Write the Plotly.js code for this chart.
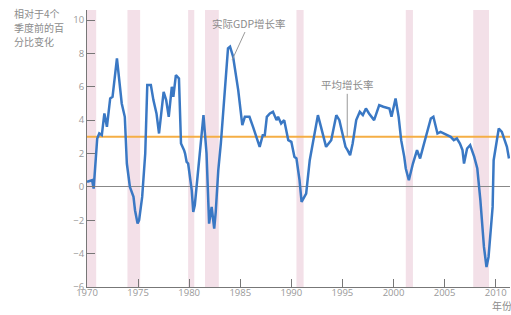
<!DOCTYPE html>
<html>
<head>
<meta charset="utf-8">
<script src="https://cdn.plot.ly/plotly-3.0.1.min.js"></script>
<style>html,body{margin:0;padding:0;background:#fff;}#chart{width:511px;height:315px;}</style>
</head>
<body>
<div id="chart"></div>
<script>
const years = [1970.0,1970.5,1970.65,1970.9,1971.0,1971.2,1971.45,1971.7,1971.95,1972.27,1972.5,1972.93,
1973.4,1973.7,1973.9,1974.2,1974.55,1974.7,1974.95,1975.1,1975.4,1975.7,1975.9,1976.25,1976.5,1976.8,
1977.05,1977.5,1977.75,1978.0,1978.3,1978.45,1978.7,1979.0,1979.2,1979.5,1979.6,1979.75,1979.9,
1980.25,1980.4,1980.55,1980.8,1981.05,1981.4,1981.7,1981.95,1982.2,1982.45,1982.6,1982.85,1983.1,
1983.3,1983.8,1984.0,1984.3,1984.8,1985.2,1985.45,1985.9,1986.25,1986.6,1986.9,1987.2,1987.4,1987.6,
1987.9,1988.2,1988.55,1988.7,1989.0,1989.3,1989.7,1990.0,1990.3,1990.5,1990.8,1991.0,1991.45,1991.8,
1992.1,1992.6,1992.9,1993.4,1993.9,1994.4,1994.7,1995.05,1995.3,1995.5,1995.75,1996.0,1996.35,1996.7,
1997.0,1997.3,1997.6,1998.1,1998.6,1999.0,1999.6,1999.8,2000.2,2000.5,2000.75,2001.05,2001.2,2001.5,
2001.9,2002.3,2002.6,2002.9,2003.3,2003.65,2003.9,2004.3,2004.6,2004.9,2005.3,2005.6,2005.9,2006.2,
2006.5,2006.75,2006.9,2007.2,2007.5,2007.9,2008.2,2008.5,2008.85,2009.1,2009.3,2009.7,2009.8,2010.3,
2010.6,2011.1,2011.3];
const gdpGrowth = [0.3,0.4,-0.1,2.6,2.9,3.2,3.1,4.4,3.6,5.3,5.4,7.7,
5.0,4.2,1.4,0.0,-0.6,-1.4,-2.2,-2.0,-0.6,2.0,6.1,6.1,5.2,4.4,
3.2,5.7,5.2,4.2,6.0,5.4,6.7,6.5,2.6,2.2,2.0,1.5,1.4,
-0.2,-1.5,-1.1,0.4,2.0,4.3,2.0,-2.2,-1.2,-2.5,-1.5,1.0,2.6,
4.2,8.3,8.4,7.8,5.8,3.7,4.2,4.2,3.6,3.0,2.4,3.1,3.1,4.2,
4.4,4.5,4.0,4.2,3.8,4.0,2.8,2.7,1.8,1.7,0.4,-0.9,-0.4,1.6,
2.6,4.3,3.6,2.4,2.8,4.3,4.0,3.0,2.4,2.2,1.9,2.6,4.0,4.5,
4.3,4.7,4.4,4.0,4.9,4.8,4.7,4.2,5.3,4.2,2.8,1.8,1.1,0.4,
1.4,2.2,1.7,2.4,3.3,4.1,4.2,3.2,3.3,3.2,3.1,3.0,2.8,2.9,
2.6,2.2,1.4,2.3,2.5,1.8,1.1,-0.8,-3.6,-4.8,-4.2,-1.2,1.6,3.5,
3.3,2.4,1.7];
const avgGrowth = 3.0;
const avgSpan = [1970, 2011.4];
// Recession periods
const recStart = [1969.9, 1973.96, 1979.9, 1981.55, 1990.5, 2001.2, 2007.8];
const recEnd   = [1970.9, 1975.2, 1980.5, 1982.9, 1991.2, 2001.9, 2009.35];
const yTicks = [-6,-4,-2,0,2,4,6,8,10];
const xTicks = [1970,1975,1980,1985,1990,1995,2000,2005,2010];
const yTitleLines = ['相对于4个', '季度前的百', '分比变化'];

const shapes = recStart.map((s,i)=>({
  type:'rect', xref:'x', yref:'paper', x0:s, x1:recEnd[i], y0:0, y1:1,
  fillcolor:'#f3e0e8', line:{width:0}, layer:'below'
}));

const traces = [
  {x: avgSpan, y: [avgGrowth, avgGrowth], mode:'lines', line:{color:'#f5ae45', width:2}, hoverinfo:'skip'},
  {x: years, y: gdpGrowth, mode:'lines', line:{color:'#3a78c4', width:2.5}, hoverinfo:'skip'}
];

const fam = '"Noto Sans CJK SC", "Noto Sans", sans-serif';
const grayFont = {family:fam, size:10.5, color:'#8c8c8c'};
const titleAnns = yTitleLines.map((t,i)=>({
  xref:'paper', yref:'paper', x:-0.178, y:0.989 - i*0.0505, xanchor:'left', yanchor:'middle',
  text:t, showarrow:false, font:{family:fam, size:10, color:'#8c8c8c'}
}));

const layout = {
  width:511, height:315,
  margin:{l:87, r:1, t:10, b:28, pad:0},
  paper_bgcolor:'#fff', plot_bgcolor:'rgba(0,0,0,0)',
  showlegend:false,
  shapes: shapes,
  xaxis:{range:[1970, 2011.4], tickvals:xTicks, ticks:'inside', ticklen:8, tickcolor:'#777',
    ticklabelstandoff:-3,
    showgrid:false, zeroline:false, showline:true, linecolor:'#777', linewidth:1,
    tickfont:{family:'"Open Sans", sans-serif', size:9.5, color:'#999'}},
  yaxis:{range:[-6, 10.6], tickvals:yTicks, ticks:'inside', ticklen:8, tickcolor:'#777',
    showgrid:false, zeroline:true, zerolinecolor:'#888', zerolinewidth:1,
    showline:true, linecolor:'#777', linewidth:1,
    tickfont:{family:'"Open Sans", sans-serif', size:9.5, color:'#999'}},
  annotations: titleAnns.concat([
    {xref:'x', yref:'y', x:1984.2, y:7.6, text:'实际GDP增长率', showarrow:true, arrowhead:0,
     arrowcolor:'#999', arrowwidth:1, ax:17, ay:-37, font:grayFont, standoff:0},
    {xref:'x', yref:'y', x:1995.47, y:avgGrowth, text:'平均增长率', showarrow:true, arrowhead:0,
     arrowcolor:'#999', arrowwidth:1, ax:0, ay:-52, font:grayFont, standoff:0},
    {xref:'paper', yref:'paper', x:0.98, y:-0.066, xanchor:'center', yanchor:'middle',
     text:'年份', showarrow:false, font:{family:fam, size:10, color:'#8c8c8c'}}
  ])
};
Plotly.newPlot('chart', traces, layout, {displayModeBar:false, staticPlot:true});
</script>
</body>
</html>
